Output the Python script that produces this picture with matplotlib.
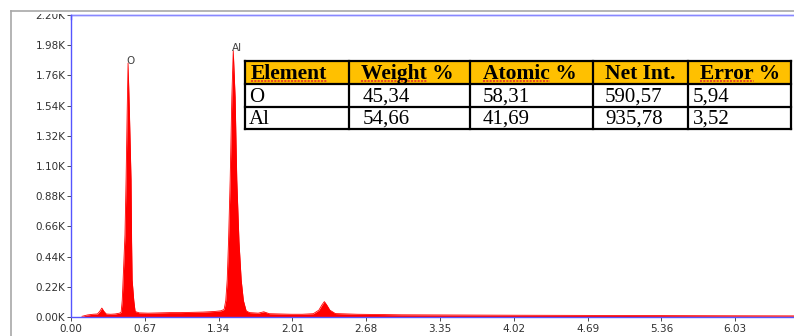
import matplotlib
matplotlib.use("Agg")
import matplotlib.pyplot as plt
from matplotlib.patches import Rectangle

# EDS spectrum outline (keV, counts)
energy = [0.10, 0.15, 0.20, 0.24, 0.26, 0.28, 0.30, 0.32, 0.36, 0.40, 0.44,
          0.455, 0.465, 0.473, 0.49, 0.50, 0.51, 0.518, 0.53, 0.545, 0.55,
          0.555, 0.57, 0.582, 0.62, 0.70, 0.80, 0.90, 1.00, 1.10, 1.20, 1.30,
          1.36, 1.39, 1.405, 1.418, 1.43, 1.445, 1.46, 1.473, 1.49, 1.505,
          1.525, 1.545, 1.565, 1.59, 1.62, 1.70, 1.75, 1.80, 1.90, 2.00, 2.10,
          2.20, 2.25, 2.28, 2.30, 2.32, 2.35, 2.40, 2.60, 3.00, 4.00, 5.00,
          6.00, 6.70]
counts = [5, 15, 20, 22, 40, 65, 40, 22, 20, 22, 28,
          35, 120, 270, 600, 1000, 1500, 1850, 1500, 1000, 550,
          270, 120, 40, 30, 28, 30, 32, 32, 34, 36, 40,
          45, 55, 120, 270, 550, 1000, 1600, 1940, 1600, 1000,
          550, 270, 120, 45, 32, 28, 38, 24, 22, 20, 20,
          24, 50, 90, 112, 90, 50, 25, 20, 16, 13, 11,
          9, 8]

peak_names = ["O", "Al"]
peak_energy = [0.518, 1.473]
peak_counts = [1850, 1940]

x_ticks = [0.00, 0.67, 1.34, 2.01, 2.68, 3.35, 4.02, 4.69, 5.36, 6.03]
y_ticks = [0, 220, 440, 660, 880, 1100, 1320, 1540, 1760, 1980, 2200]

columns = ["Element", "Weight %", "Atomic %", "Net Int.", "Error %"]
rows = [["O", "45,34", "58,31", "590,57", "5,94"],
        ["Al", "54,66", "41,69", "935,78", "3,52"]]
# header words carrying the red spell-check squiggle
squiggle_words = ["Element", "Weight", "Atomic", None, "Error"]

W, H = 794, 336
fig = plt.figure(figsize=(W / 100, H / 100), dpi=100)

ax = fig.add_axes([71 / W, 19 / H, (809 - 71) / W, 302 / H])
ax.fill_between(energy, counts, color="#ff0000", lw=0)
ax.plot(energy, counts, color="#ff0000", lw=0.6)
for name, e, c in zip(peak_names, peak_energy, peak_counts):
    ax.annotate(name, (e, c), xytext=(-1, -2), textcoords="offset points",
                fontsize=7.5, color="#404040", ha="left", va="bottom")

ax.set_xlim(0, 6.70)
ax.set_ylim(0, 2200)
ax.set_xticks(x_ticks)
ax.set_xticklabels([f"{v:.2f}" for v in x_ticks])
ax.set_yticks(y_ticks)
ax.set_yticklabels([f"{v / 1000:.2f}K" for v in y_ticks])
ax.tick_params(labelsize=7.5, colors="#303030", length=3, width=0.6, pad=1)
ax.tick_params(axis="x", pad=2)
for s in ["left", "bottom", "top"]:
    ax.spines[s].set_color("#5555ff")
    ax.spines[s].set_linewidth(1.0)
ax.spines["top"].set_color("#8888ff")
ax.spines["right"].set_visible(False)

# table drawn in pixel coordinates of the figure
col_x = [245, 349, 470, 593, 688, 791]
row_y = [61, 84, 107, 129]
head_pad = [6, 12, 13, 12, 12]
body_pad = [4, 14, 13, 12, 5]


def fx(px):
    return px / W


def fy(py):
    return 1 - py / H


fig.patches.append(Rectangle((fx(col_x[0]), fy(row_y[1])),
                             fx(col_x[-1]) - fx(col_x[0]), fy(row_y[0]) - fy(row_y[1]),
                             transform=fig.transFigure, facecolor="#ffc000",
                             edgecolor="none", zorder=5))
fig.patches.append(Rectangle((fx(col_x[0]), fy(row_y[-1])),
                             fx(col_x[-1]) - fx(col_x[0]), fy(row_y[1]) - fy(row_y[-1]),
                             transform=fig.transFigure, facecolor="white",
                             edgecolor="none", zorder=5))
for yy in row_y:
    fig.add_artist(plt.Line2D([fx(col_x[0]), fx(col_x[-1])], [fy(yy), fy(yy)],
                              color="black", lw=1.6, zorder=6))
for xx in col_x:
    fig.add_artist(plt.Line2D([fx(xx), fx(xx)], [fy(row_y[0]), fy(row_y[-1])],
                              color="black", lw=1.6, zorder=6))

fig.canvas.draw()
renderer = fig.canvas.get_renderer()
for j, name in enumerate(columns):
    x0 = fx(col_x[j] + head_pad[j])
    yc = fy((row_y[0] + row_y[1]) / 2 + 1.5)
    fig.text(x0, yc, name, family="Liberation Serif", fontsize=15.5, fontweight="bold",
             va="center", ha="left", zorder=7)
    if squiggle_words[j]:
        probe = fig.text(x0, yc, squiggle_words[j], family="Liberation Serif",
                         fontsize=15.5, fontweight="bold", va="center", ha="left")
        bb = probe.get_window_extent(renderer)
        probe.remove()
        fig.add_artist(plt.Line2D([bb.x0 / W, bb.x1 / W], [fy(row_y[1] - 3)] * 2,
                                  color="#e03030", lw=1.2, ls=(0, (1.2, 0.8)), zorder=7))
for i, r in enumerate(rows):
    for j, val in enumerate(r):
        fig.text(fx(col_x[j] + body_pad[j]), fy((row_y[i + 1] + row_y[i + 2]) / 2 + 1.5), val,
                 family="Liberation Serif", fontsize=15,
                 va="center", ha="left", zorder=7)

# outer grey frame, clipping the top label like the original screenshot
fig.patches.append(Rectangle((0, fy(14)), 1, 1 - fy(14), transform=fig.transFigure,
                             facecolor="white", edgecolor="none", zorder=8))
fig.add_artist(plt.Line2D([fx(11), 1], [fy(10.5), fy(10.5)], color="#a8a8a8", lw=1.2, zorder=9))
fig.add_artist(plt.Line2D([fx(11), fx(11)], [fy(10.5), 0], color="#a8a8a8", lw=1.2, zorder=9))
fig.add_artist(plt.Line2D([fx(71), 1], [fy(14.5), fy(14.5)], color="#8888ff", lw=1.0, zorder=9))
fig.add_artist(plt.Line2D([fx(71), fx(71)], [fy(14.5), fy(19)], color="#5555ff", lw=1.0, zorder=9))

fig.savefig("out.png", dpi=100)
